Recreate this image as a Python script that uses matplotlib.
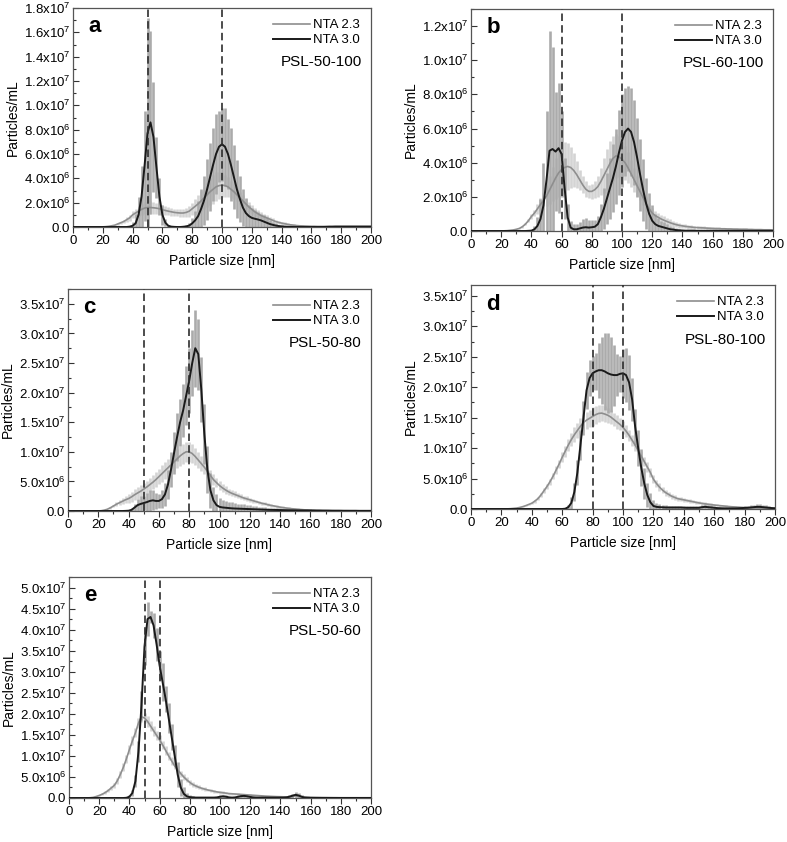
import numpy as np
import matplotlib
matplotlib.use('Agg')
import matplotlib.pyplot as plt
from matplotlib.ticker import MultipleLocator, FuncFormatter

plt.rcParams['font.family'] = ['Liberation Sans', 'DejaVu Sans']
plt.rcParams['mathtext.default'] = 'regular'

# particle size grid [nm], 2 nm steps from 0 to 200
sizes = np.arange(0, 201, 2)

# all concentrations below in units of 1e6 particles/mL, one value per size
# ---- a: PSL-50-100 ----
a_nta23 = [0, 0, 0, 0, 0, 0, 0, 0, 0, 0,
           0.01, 0.03, 0.06, 0.1, 0.15, 0.25, 0.35, 0.45, 0.6, 0.75,
           1.0, 1.15, 1.3, 1.45, 1.55, 1.6, 1.6, 1.58, 1.55, 1.5,
           1.42, 1.36, 1.3, 1.25, 1.2, 1.17, 1.15, 1.15, 1.2, 1.3,
           1.5, 1.7, 1.9, 2.15, 2.4, 2.65, 2.9, 3.1, 3.3, 3.4,
           3.45, 3.4, 3.3, 3.1, 2.9, 2.65, 2.4, 2.15, 1.9, 1.65,
           1.45, 1.25, 1.1, 0.95, 0.85, 0.75, 0.65, 0.55, 0.45, 0.38,
           0.32, 0.27, 0.22, 0.18, 0.15, 0.12, 0.1, 0.09, 0.08, 0.07,
           0.06, 0.06, 0.05, 0.05, 0.05, 0.05, 0.05, 0.05, 0.05, 0.05,
           0.05, 0.05, 0.05, 0.05, 0.05, 0.05, 0.05, 0.05, 0.05, 0.05,
           0.05]
a_err23 = [0, 0, 0, 0, 0, 0, 0, 0, 0, 0,
           0, 0.01, 0.02, 0.03, 0.05, 0.08, 0.1, 0.15, 0.2, 0.25,
           0.3, 0.35, 0.4, 0.45, 0.5, 0.55, 0.5, 0.5, 0.45, 0.45,
           0.4, 0.4, 0.35, 0.35, 0.3, 0.3, 0.3, 0.35, 0.4, 0.45,
           0.5, 0.6, 0.7, 0.8, 0.9, 1.0, 1.1, 1.2, 1.2, 1.1,
           1.0, 0.9, 0.8, 0.7, 0.6, 0.55, 0.5, 0.45, 0.4, 0.4,
           0.35, 0.35, 0.3, 0.3, 0.25, 0.25, 0.2, 0.2, 0.15, 0.15,
           0.12, 0.1, 0.08, 0.07, 0.06, 0.05, 0.05, 0.04, 0.04, 0.04,
           0.03, 0.03, 0.03, 0.03, 0.03, 0.03, 0.03, 0.03, 0.03, 0.03,
           0.03, 0.03, 0.03, 0.03, 0.03, 0.03, 0.03, 0.03, 0.03, 0.03,
           0.03]
a_nta30 = [0, 0, 0, 0, 0, 0, 0, 0, 0, 0,
           0, 0, 0, 0, 0, 0, 0, 0, 0, 0.03,
           0.1, 0.3, 1.0, 2.5, 5.0, 7.7, 8.6, 7.4, 4.9, 2.5,
           1.0, 0.35, 0.1, 0.03, 0.01, 0, 0, 0.02, 0.05, 0.12,
           0.3, 0.55, 0.9, 1.5, 2.2, 3.1, 4.1, 5.1, 6.0, 6.6,
           6.8, 6.6, 6.0, 5.1, 4.1, 3.1, 2.3, 1.6, 1.15, 0.9,
           0.75, 0.68, 0.62, 0.55, 0.45, 0.35, 0.25, 0.18, 0.12, 0.08,
           0.05, 0.03, 0.02, 0.01, 0, 0, 0, 0, 0, 0,
           0, 0, 0, 0, 0, 0.01, 0.02, 0.02, 0.03, 0.03,
           0.03, 0.03, 0.03, 0.03, 0.03, 0.03, 0.03, 0.03, 0.03, 0.03,
           0.03]
a_err30 = [0, 0, 0, 0, 0, 0, 0, 0, 0, 0,
           0, 0, 0, 0, 0, 0, 0, 0, 0, 0.05,
           0.3, 0.8, 1.5, 2.5, 4.5, 9.5, 7.5, 4.5, 2.5, 1.5,
           0.8, 0.3, 0.1, 0.05, 0.03, 0.02, 0.02, 0.05, 0.1, 0.2,
           0.4, 0.8, 1.2, 1.6, 2.0, 2.5, 2.8, 3.0, 3.3, 2.9,
           3.0, 3.2, 2.9, 3.0, 2.6, 2.4, 1.9, 1.5, 1.2, 0.9,
           0.8, 0.7, 0.6, 0.55, 0.5, 0.45, 0.35, 0.25, 0.18, 0.12,
           0.08, 0.05, 0.03, 0.02, 0.01, 0, 0, 0, 0, 0,
           0, 0, 0, 0, 0, 0.01, 0.02, 0.02, 0.02, 0.02,
           0.02, 0.02, 0.02, 0.02, 0.02, 0.02, 0.02, 0.02, 0.02, 0.02,
           0.02]

# ---- b: PSL-60-100 ----
b_nta23 = [0, 0, 0, 0, 0, 0, 0, 0, 0, 0,
           0, 0.01, 0.02, 0.04, 0.06, 0.1, 0.15, 0.25, 0.4, 0.6,
           0.85, 1.05, 1.3, 1.55, 1.8, 2.05, 2.4, 2.75, 3.1, 3.4,
           3.6, 3.72, 3.78, 3.72, 3.55, 3.3, 3.0, 2.7, 2.45, 2.32,
           2.32, 2.42, 2.6, 2.9, 3.25, 3.6, 3.95, 4.25, 4.4, 4.35,
           4.2, 4.0, 3.7, 3.35, 3.0, 2.65, 2.3, 1.95, 1.6, 1.3,
           1.05, 0.9, 0.8, 0.7, 0.62, 0.55, 0.48, 0.42, 0.37, 0.33,
           0.3, 0.27, 0.25, 0.23, 0.21, 0.2, 0.19, 0.18, 0.17, 0.16,
           0.15, 0.14, 0.14, 0.13, 0.13, 0.12, 0.12, 0.11, 0.11, 0.1,
           0.1, 0.1, 0.09, 0.09, 0.08, 0.08, 0.08, 0.07, 0.07, 0.07,
           0.06]
b_err23 = [0, 0, 0, 0, 0, 0, 0, 0, 0, 0,
           0, 0, 0, 0, 0, 0.02, 0.03, 0.05, 0.07, 0.1,
           0.15, 0.2, 0.3, 0.4, 0.5, 0.6, 0.8, 1.0, 1.2, 1.4,
           1.5, 1.5, 1.4, 1.2, 1.0, 0.8, 0.6, 0.5, 0.45, 0.4,
           0.45, 0.5, 0.6, 0.8, 1.0, 1.2, 1.3, 1.3, 1.3, 1.2,
           1.1, 1.0, 0.9, 0.8, 0.7, 0.6, 0.5, 0.45, 0.4, 0.35,
           0.3, 0.3, 0.28, 0.26, 0.24, 0.22, 0.2, 0.18, 0.16, 0.14,
           0.12, 0.12, 0.11, 0.11, 0.1, 0.1, 0.1, 0.09, 0.09, 0.09,
           0.08, 0.08, 0.08, 0.07, 0.07, 0.07, 0.07, 0.06, 0.06, 0.06,
           0.06, 0.06, 0.05, 0.05, 0.05, 0.05, 0.05, 0.05, 0.05, 0.05,
           0.05]
b_nta30 = [0, 0, 0, 0, 0, 0, 0, 0, 0, 0,
           0, 0, 0, 0, 0, 0, 0, 0, 0, 0.01,
           0.02, 0.1, 0.3, 0.7, 1.5, 3.0, 4.7, 4.8, 4.65, 4.85,
           4.5, 2.5, 0.8, 0.2, 0.1, 0.1, 0.15, 0.2, 0.22, 0.2,
           0.22, 0.25, 0.4, 0.8, 1.3, 1.9, 2.5, 3.1, 3.8, 4.6,
           5.3, 5.8, 6.0, 5.8, 5.2, 4.3, 3.3, 2.4, 1.6, 1.0,
           0.6, 0.4, 0.3, 0.25, 0.2, 0.15, 0.1, 0.08, 0.05, 0.04,
           0.03, 0.02, 0.02, 0.02, 0.02, 0.01, 0.01, 0.01, 0.01, 0.01,
           0.01, 0.01, 0.01, 0.01, 0.01, 0.01, 0.01, 0.01, 0.01, 0.01,
           0.01, 0.01, 0.01, 0.01, 0.01, 0.01, 0.01, 0.01, 0.01, 0.01,
           0.01]
b_err30 = [0, 0, 0, 0, 0, 0, 0, 0, 0, 0,
           0, 0, 0, 0, 0, 0, 0, 0, 0, 0.01,
           0.05, 0.2, 0.5, 1.2, 2.5, 4.0, 7.0, 6.0, 3.5, 3.8,
           2.5, 1.8, 0.8, 0.4, 0.3, 0.3, 0.35, 0.5, 0.55, 0.45,
           0.4, 0.4, 0.5, 0.8, 1.2, 1.5, 1.8, 2.0, 2.2, 2.5,
           2.7, 2.6, 2.5, 2.6, 2.5, 2.3, 2.1, 1.8, 1.5, 1.2,
           0.9, 0.6, 0.45, 0.35, 0.3, 0.25, 0.2, 0.15, 0.1, 0.08,
           0.05, 0.04, 0.03, 0.03, 0.02, 0.02, 0.02, 0.02, 0.02, 0.02,
           0.02, 0.02, 0.02, 0.02, 0.02, 0.02, 0.02, 0.02, 0.02, 0.02,
           0.02, 0.02, 0.02, 0.02, 0.02, 0.02, 0.02, 0.02, 0.02, 0.02,
           0.02]

# ---- c: PSL-50-80 ----
c_nta23 = [0, 0, 0, 0, 0, 0, 0, 0, 0, 0,
           0.0, 0.05, 0.15, 0.3, 0.55, 0.85, 1.15, 1.4, 1.65, 1.9,
           2.1, 2.4, 2.75, 3.05, 3.35, 3.7, 4.05, 4.45, 4.85, 5.3,
           5.8, 6.3, 6.8, 7.3, 7.8, 8.3, 8.8, 9.3, 9.7, 10.0,
           10.0, 9.7, 9.2, 8.6, 8.0, 7.4, 6.7, 6.0, 5.3, 4.8,
           4.3, 3.9, 3.55, 3.25, 3.0, 2.8, 2.6, 2.4, 2.2, 2.05,
           1.9, 1.75, 1.6, 1.45, 1.3, 1.2, 1.05, 0.95, 0.85, 0.75,
           0.65, 0.57, 0.5, 0.44, 0.38, 0.33, 0.28, 0.24, 0.2, 0.17,
           0.15, 0.13, 0.11, 0.1, 0.09, 0.08, 0.07, 0.06, 0.05, 0.05,
           0.04, 0.04, 0.04, 0.03, 0.03, 0.03, 0.03, 0.02, 0.02, 0.02,
           0.02]
c_err23 = [0, 0, 0, 0, 0, 0, 0, 0, 0, 0,
           0, 0.02, 0.05, 0.1, 0.15, 0.2, 0.3, 0.4, 0.5, 0.6,
           0.7, 0.8, 0.9, 1.0, 1.0, 1.1, 1.1, 1.2, 1.2, 1.3,
           1.3, 1.4, 1.4, 1.5, 1.5, 1.6, 1.6, 1.7, 1.7, 1.7,
           1.7, 1.6, 1.5, 1.4, 1.3, 1.2, 1.1, 1.0, 0.9, 0.8,
           0.7, 0.65, 0.6, 0.55, 0.5, 0.5, 0.45, 0.45, 0.4, 0.4,
           0.35, 0.35, 0.3, 0.3, 0.3, 0.25, 0.25, 0.25, 0.2, 0.2,
           0.2, 0.2, 0.18, 0.18, 0.16, 0.16, 0.15, 0.14, 0.13, 0.12,
           0.12, 0.11, 0.1, 0.1, 0.09, 0.09, 0.08, 0.08, 0.07, 0.07,
           0.07, 0.06, 0.06, 0.06, 0.06, 0.05, 0.05, 0.05, 0.05, 0.05,
           0.05]
c_nta30 = [0, 0, 0, 0, 0, 0, 0, 0, 0, 0,
           0, 0, 0, 0, 0, 0, 0, 0, 0, 0.02,
           0.05, 0.2, 0.6, 1.0, 1.2, 1.35, 1.5, 1.7, 1.8, 1.7,
           1.7, 2.0, 2.8, 4.5, 7.0, 9.8, 12.5, 15.0, 17.0, 19.5,
           22.0, 25.0, 27.5, 26.5, 20.5, 13.0, 7.0, 3.5, 1.8, 1.0,
           0.7, 0.6, 0.55, 0.5, 0.45, 0.42, 0.4, 0.38, 0.36, 0.34,
           0.32, 0.3, 0.28, 0.26, 0.24, 0.22, 0.2, 0.19, 0.18, 0.17,
           0.16, 0.15, 0.14, 0.13, 0.12, 0.11, 0.1, 0.1, 0.09, 0.09,
           0.08, 0.08, 0.07, 0.07, 0.06, 0.06, 0.06, 0.05, 0.05, 0.05,
           0.05, 0.04, 0.04, 0.04, 0.04, 0.04, 0.03, 0.03, 0.03, 0.03,
           0.03]
c_err30 = [0, 0, 0, 0, 0, 0, 0, 0, 0, 0,
           0, 0, 0, 0, 0, 0, 0, 0, 0, 0.03,
           0.1, 0.3, 0.6, 1.0, 1.3, 1.2, 1.5, 1.9, 1.7, 1.3,
           1.2, 1.5, 2.0, 2.5, 3.0, 3.5, 4.0, 4.0, 4.5, 5.0,
           5.5, 5.5, 6.5, 6.0, 5.5, 5.0, 4.0, 3.0, 2.2, 1.8,
           1.5, 1.3, 1.2, 1.1, 1.0, 0.9, 0.85, 0.8, 0.75, 0.7,
           0.65, 0.6, 0.55, 0.5, 0.45, 0.4, 0.38, 0.35, 0.32, 0.3,
           0.28, 0.26, 0.25, 0.24, 0.23, 0.22, 0.21, 0.2, 0.2, 0.2,
           0.18, 0.17, 0.16, 0.15, 0.14, 0.13, 0.12, 0.11, 0.1, 0.1,
           0.09, 0.09, 0.08, 0.08, 0.07, 0.07, 0.06, 0.06, 0.05, 0.05,
           0.05]

# ---- d: PSL-80-100 ----
d_nta23 = [0, 0, 0, 0, 0, 0, 0, 0, 0, 0,
           0.0, 0.01, 0.02, 0.05, 0.1, 0.15, 0.25, 0.38, 0.55, 0.75,
           0.95, 1.3, 1.7, 2.3, 3.0, 3.7, 4.5, 5.4, 6.4, 7.4,
           8.5, 9.5, 10.5, 11.4, 12.2, 12.9, 13.6, 14.2, 14.6, 14.9,
           15.2, 15.5, 15.7, 15.75, 15.6, 15.4, 15.1, 14.7, 14.3, 13.9,
           13.4, 12.8, 12.1, 11.3, 10.5, 9.6, 8.7, 7.8, 6.9, 6.0,
           4.9, 4.2, 3.6, 3.1, 2.7, 2.4, 2.1, 1.9, 1.7, 1.6,
           1.5, 1.4, 1.3, 1.2, 1.1, 1.0, 0.92, 0.85, 0.78, 0.72,
           0.65, 0.6, 0.55, 0.5, 0.45, 0.4, 0.36, 0.33, 0.3, 0.27,
           0.24, 0.22, 0.2, 0.18, 0.16, 0.14, 0.13, 0.12, 0.11, 0.1,
           0.08]
d_err23 = [0, 0, 0, 0, 0, 0, 0, 0, 0, 0,
           0, 0, 0.01, 0.02, 0.03, 0.05, 0.07, 0.1, 0.12, 0.15,
           0.2, 0.25, 0.3, 0.35, 0.4, 0.45, 0.5, 0.55, 0.6, 0.7,
           0.8, 0.9, 1.0, 1.1, 1.2, 1.3, 1.3, 1.4, 1.4, 1.4,
           1.5, 1.5, 1.4, 1.3, 1.3, 1.2, 1.2, 1.1, 1.1, 1.0,
           1.0, 1.0, 0.9, 0.9, 0.9, 0.8, 0.8, 0.8, 0.8, 0.7,
           0.7, 0.6, 0.6, 0.5, 0.5, 0.45, 0.4, 0.4, 0.35, 0.3,
           0.3, 0.28, 0.27, 0.26, 0.25, 0.24, 0.23, 0.22, 0.21, 0.2,
           0.2, 0.18, 0.17, 0.16, 0.15, 0.14, 0.13, 0.12, 0.11, 0.1,
           0.1, 0.09, 0.08, 0.08, 0.07, 0.07, 0.06, 0.06, 0.05, 0.05,
           0.05]
d_nta30 = [0, 0, 0, 0, 0, 0, 0, 0, 0, 0,
           0, 0, 0, 0, 0, 0, 0, 0, 0, 0,
           0, 0, 0, 0, 0, 0, 0, 0, 0, 0,
           0.0, 0.05, 0.3, 1.0, 2.8, 6.0, 10.5, 15.0, 19.5, 21.5,
           22.3, 22.6, 22.8, 22.8, 22.6, 22.3, 22.1, 22.0, 22.0, 22.2,
           22.3, 22.0, 20.8, 18.0, 13.5, 10.0, 6.8, 4.2, 2.3, 1.1,
           0.5, 0.35, 0.3, 0.28, 0.25, 0.25, 0.25, 0.25, 0.25, 0.25,
           0.22, 0.2, 0.2, 0.2, 0.2, 0.2, 0.3, 0.35, 0.3, 0.25,
           0.2, 0.15, 0.12, 0.1, 0.1, 0.1, 0.1, 0.1, 0.12, 0.15,
           0.18, 0.2, 0.25, 0.3, 0.35, 0.35, 0.3, 0.25, 0.2, 0.15,
           0.12]
d_err30 = [0, 0, 0, 0, 0, 0, 0, 0, 0, 0,
           0, 0, 0, 0, 0, 0, 0, 0, 0, 0,
           0, 0, 0, 0, 0, 0, 0, 0, 0, 0,
           0, 0.1, 0.4, 1.0, 1.5, 2.0, 2.5, 2.8, 3.0, 3.0,
           2.8, 3.0, 4.5, 5.5, 6.3, 6.6, 6.2, 5.0, 3.5, 3.0,
           4.0, 4.5, 4.5, 3.5, 3.0, 3.0, 3.0, 2.5, 2.0, 1.5,
           1.0, 0.7, 0.5, 0.4, 0.35, 0.3, 0.3, 0.3, 0.3, 0.3,
           0.3, 0.3, 0.3, 0.3, 0.3, 0.3, 0.4, 0.45, 0.4, 0.35,
           0.3, 0.25, 0.2, 0.2, 0.2, 0.2, 0.2, 0.2, 0.2, 0.25,
           0.3, 0.3, 0.35, 0.4, 0.45, 0.45, 0.4, 0.35, 0.3, 0.25,
           0.2]

# ---- e: PSL-50-60 ----
e_nta23 = [0, 0, 0, 0, 0, 0, 0.02, 0.06, 0.15, 0.35,
           0.6, 0.9, 1.3, 1.8, 2.4, 3.0, 4.1, 5.6, 7.3, 9.3,
           11.5, 13.6, 15.5, 17.8, 19.3, 19.0, 18.2, 17.1, 16.0, 14.9,
           13.8, 12.6, 11.3, 10.0, 8.8, 7.6, 6.7, 5.8, 5.0, 4.3,
           3.7, 3.2, 2.85, 2.55, 2.3, 2.1, 1.9, 1.75, 1.6, 1.45,
           1.35, 1.25, 1.15, 1.05, 1.0, 0.95, 0.9, 0.85, 0.8, 0.75,
           0.7, 0.65, 0.6, 0.55, 0.5, 0.45, 0.42, 0.38, 0.35, 0.32,
           0.3, 0.28, 0.27, 0.3, 0.4, 0.5, 0.4, 0.3, 0.22, 0.2,
           0.18, 0.16, 0.14, 0.12, 0.1, 0.09, 0.08, 0.07, 0.06, 0.05,
           0.04, 0.04, 0.03, 0.03, 0.03, 0.02, 0.02, 0.02, 0.02, 0.02,
           0.02]
e_err23 = [0, 0, 0, 0, 0, 0, 0, 0.02, 0.05, 0.1,
           0.15, 0.2, 0.3, 0.4, 0.5, 0.6, 0.7, 0.8, 0.9, 1.0,
           1.0, 1.1, 1.1, 1.2, 1.3, 1.3, 1.3, 1.2, 1.2, 1.1,
           1.1, 1.0, 1.0, 0.9, 0.9, 0.8, 0.8, 0.7, 0.7, 0.6,
           0.6, 0.5, 0.5, 0.45, 0.4, 0.4, 0.35, 0.35, 0.3, 0.3,
           0.3, 0.3, 0.25, 0.25, 0.25, 0.2, 0.2, 0.2, 0.2, 0.2,
           0.18, 0.17, 0.16, 0.15, 0.15, 0.14, 0.13, 0.12, 0.12, 0.11,
           0.2, 0.2, 0.2, 0.3, 0.4, 0.5, 0.4, 0.3, 0.2, 0.2,
           0.1, 0.09, 0.08, 0.07, 0.06, 0.05, 0.05, 0.04, 0.04, 0.03,
           0.03, 0.03, 0.03, 0.02, 0.02, 0.02, 0.02, 0.02, 0.02, 0.02,
           0.02]
e_nta30 = [0, 0, 0, 0, 0, 0, 0, 0, 0, 0,
           0, 0, 0, 0, 0, 0, 0, 0, 0, 0.05,
           0.3, 1.2, 4.0, 11.0, 22.0, 36.0, 42.5, 43.0, 41.0, 36.5,
           31.5, 27.5, 23.5, 19.0, 14.5, 10.0, 5.5, 2.5, 1.0, 0.4,
           0.2, 0.15, 0.1, 0.1, 0.1, 0.1, 0.1, 0.1, 0.1, 0.15,
           0.3, 0.4, 0.3, 0.15, 0.1, 0.15, 0.3, 0.45, 0.5, 0.4,
           0.25, 0.15, 0.1, 0.1, 0.1, 0.1, 0.1, 0.1, 0.1, 0.1,
           0.1, 0.1, 0.15, 0.3, 0.55, 0.75, 0.6, 0.3, 0.1, 0.05,
           0.02, 0.02, 0.02, 0.02, 0.02, 0.02, 0.02, 0.02, 0.02, 0.02,
           0.02, 0.02, 0.02, 0.02, 0.02, 0.02, 0.02, 0.02, 0.02, 0.02,
           0.02]
e_err30 = [0, 0, 0, 0, 0, 0, 0, 0, 0, 0,
           0, 0, 0, 0, 0, 0, 0, 0, 0, 0.05,
           0.3, 0.8, 1.5, 2.5, 3.5, 4.5, 4.0, 1.5, 3.0, 4.0,
           3.5, 4.5, 3.0, 3.5, 3.0, 2.5, 3.0, 2.0, 1.5, 0.8,
           0.5, 0.3, 0.2, 0.15, 0.15, 0.15, 0.15, 0.15, 0.15, 0.2,
           0.3, 0.4, 0.3, 0.2, 0.15, 0.2, 0.3, 0.4, 0.4, 0.3,
           0.2, 0.15, 0.1, 0.1, 0.1, 0.1, 0.1, 0.1, 0.1, 0.1,
           0.1, 0.1, 0.15, 0.3, 0.5, 0.6, 0.5, 0.3, 0.1, 0.05,
           0.02, 0.02, 0.02, 0.02, 0.02, 0.02, 0.02, 0.02, 0.02, 0.02,
           0.02, 0.02, 0.02, 0.02, 0.02, 0.02, 0.02, 0.02, 0.02, 0.02,
           0.02]

# panel settings
letters = ['a', 'b', 'c', 'd', 'e']
samples = ['PSL-50-100', 'PSL-60-100', 'PSL-50-80', 'PSL-80-100', 'PSL-50-60']
nominal = [(50, 100), (60, 100), (50, 80), (80, 100), (50, 60)]
series = [(a_nta23, a_err23, a_nta30, a_err30),
          (b_nta23, b_err23, b_nta30, b_err30),
          (c_nta23, c_err23, c_nta30, c_err30),
          (d_nta23, d_err23, d_nta30, d_err30),
          (e_nta23, e_err23, e_nta30, e_err30)]
ytop = [1.8e7, 1.3e7, 3.75e7, 3.68e7, 5.25e7]
ymajor = [2e6, 2e6, 5e6, 5e6, 5e6]
yminor = [1e6, 1e6, 2.5e6, 2.5e6, 2.5e6]

# axes boxes in pixels (left, top, right, bottom) of a 787x842 figure
boxes = [(73, 8, 371, 227), (471, 9, 773, 231), (68, 289, 371, 511),
         (471, 285, 775, 509), (69, 577, 371, 798)]

W, H = 787, 842


def fmt_sci(v, pos):
    if v < -1:
        return ''
    if abs(v) < 1:
        return '0.0'
    e = int(np.floor(np.log10(v) + 1e-9))
    return '%.1fx10$^{%d}$' % (v / 10 ** e, e)


fig = plt.figure(figsize=(W / 100, H / 100), dpi=100)

for i in range(5):
    l, t, r, b = boxes[i]
    ax = fig.add_axes([l / W, 1 - b / H, (r - l) / W, (b - t) / H])
    m23, e23, m30, e30 = [np.array(s) * 1e6 for s in series[i]]

    ax.vlines(sizes, np.clip(m23 - e23, 0, None), m23 + e23,
              color='#d4d4d4', lw=1.9, zorder=1)
    ax.vlines(sizes, np.clip(m30 - e30, 0, None), m30 + e30,
              color='#ababab', lw=1.9, zorder=2)
    ax.plot(sizes, m23, color='#8e8e8e', lw=1.2, zorder=3, label='NTA 2.3')
    ax.plot(sizes, m30, color='#1a1a1a', lw=1.4, zorder=4, label='NTA 3.0')
    for p in nominal[i]:
        ax.axvline(p, color='#2e2e2e', ls=(0, (4.5, 2.5)), lw=1.2, zorder=5)

    ax.set_xlim(0, 200)
    ax.set_ylim(0, ytop[i])
    ax.xaxis.set_major_locator(MultipleLocator(20))
    ax.xaxis.set_minor_locator(MultipleLocator(10))
    ax.yaxis.set_major_locator(MultipleLocator(ymajor[i]))
    ax.yaxis.set_minor_locator(MultipleLocator(yminor[i]))
    ax.yaxis.set_major_formatter(FuncFormatter(fmt_sci))
    ax.tick_params(axis='both', which='major', labelsize=9.5, length=4,
                   width=0.8, color='#333333', pad=2)
    ax.tick_params(axis='both', which='minor', length=2, width=0.8,
                   color='#333333')
    ax.tick_params(axis='y', which='both', direction='in')
    ax.tick_params(axis='x', which='both', direction='out')
    for sp in ax.spines.values():
        sp.set_color('#555555')
        sp.set_linewidth(0.9)

    ax.set_xlabel('Particle size [nm]', fontsize=10, labelpad=5)
    ax.set_ylabel('Particles/mL', fontsize=10, labelpad=3)

    ax.legend(loc='upper right', frameon=False, fontsize=9.5,
              handlelength=2.8, handletextpad=0.25, labelspacing=0.2,
              borderaxespad=0.45)
    ax.text(0.97, 0.755, samples[i], transform=ax.transAxes,
            ha='right', va='center', fontsize=11)
    ax.text(0.05, 0.915, letters[i], transform=ax.transAxes,
            ha='left', va='center', fontsize=16, fontweight='bold')

fig.savefig('out.png', dpi=100)
